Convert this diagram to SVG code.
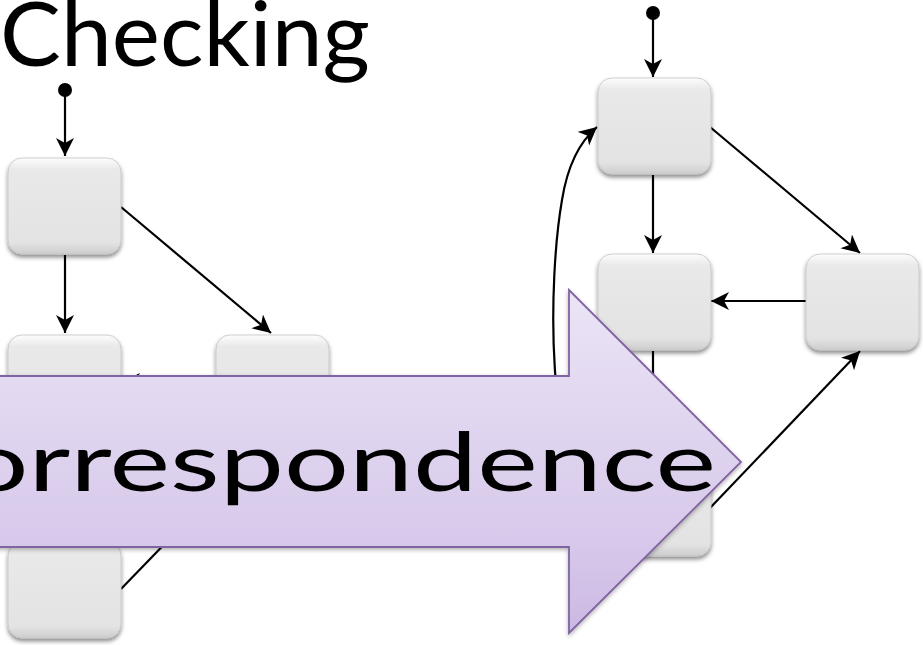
<svg xmlns="http://www.w3.org/2000/svg" width="923" height="645" viewBox="0 0 923 645">
  <defs>
    <style>
      .node { fill: url(#nodeFill); stroke: #c4c4c4; stroke-width: 0.8; filter: url(#nodeShadow); }
      .edge { fill: none; stroke: #000; stroke-width: 2.2; marker-end: url(#stealth); }
      .start { fill: #000; }
      .title { font-family: Lato, "Open Sans", sans-serif; fill: #000; }
    </style>
    <linearGradient id="nodeFill" x1="0" y1="0" x2="0" y2="1">
      <stop offset="0" stop-color="#fdfdfd"/>
      <stop offset="0.12" stop-color="#e9e9e9"/>
      <stop offset="0.88" stop-color="#e3e3e3"/>
      <stop offset="1" stop-color="#cdcdcd"/>
    </linearGradient>
    <linearGradient id="arrowFill" gradientUnits="userSpaceOnUse" x1="0" y1="290" x2="0" y2="633">
      <stop offset="0" stop-color="#ebe5f6"/>
      <stop offset="0.25" stop-color="#e4dbf2"/>
      <stop offset="0.75" stop-color="#d6c8ea"/>
      <stop offset="1" stop-color="#cbb8e3"/>
    </linearGradient>
    <filter id="nodeShadow" x="-20%" y="-20%" width="140%" height="150%">
      <feDropShadow dx="0" dy="3" stdDeviation="2.2" flood-color="#000" flood-opacity="0.45"/>
    </filter>
    <filter id="arrowShadow" x="-10%" y="-10%" width="120%" height="130%">
      <feDropShadow dx="0" dy="2" stdDeviation="2" flood-color="#000" flood-opacity="0.3"/>
    </filter>
    <!-- swept-back arrowhead, sized in user units -->
    <marker id="stealth" markerUnits="userSpaceOnUse" markerWidth="22" markerHeight="20"
            refX="18" refY="9" orient="auto">
      <path d="M0,0 L18,9 L0,18 L5,9 Z" fill="#000"/>
    </marker>
  </defs>

  <text class="title" x="0" y="66" font-size="90" textLength="370" lengthAdjust="spacingAndGlyphs">Checking</text>

  <!-- connectors -->
  <g id="connectors">
    <!-- left machine -->
    <circle class="start" cx="65" cy="90" r="7"/>
    <line class="edge" x1="65" y1="95" x2="65" y2="156"/>
    <line class="edge" x1="65" y1="255" x2="65" y2="333"/>
    <line class="edge" x1="121" y1="207" x2="271" y2="333"/>
    <line class="edge" x1="216" y1="382" x2="122" y2="382"/>
    <line class="edge" x1="121" y1="589" x2="272" y2="433"/>
    <!-- right machine -->
    <circle class="start" cx="653" cy="13" r="7"/>
    <line class="edge" x1="653" y1="18" x2="653" y2="77"/>
    <line class="edge" x1="653" y1="175" x2="653" y2="253"/>
    <line class="edge" x1="710" y1="127" x2="860" y2="253"/>
    <line class="edge" x1="806" y1="301" x2="711" y2="301"/>
    <line class="edge" x1="653" y1="351" x2="653" y2="458"/>
    <line class="edge" x1="710" y1="508" x2="860" y2="351"/>
    <path class="edge" d="M598,505 C545,470 548,280 562,200 Q570,150 597,127"/>
  </g>

  <!-- left machine states -->
  <g id="left-a"><rect class="node" x="8" y="158" width="113" height="96" rx="14"/></g>
  <g id="left-b"><rect class="node" x="8" y="335" width="113" height="96" rx="14"/></g>
  <g id="left-d"><rect class="node" x="216" y="335" width="113" height="96" rx="14"/></g>
  <g id="left-c"><rect class="node" x="8" y="542" width="113" height="96" rx="14"/></g>

  <!-- right machine states -->
  <g id="right-e"><rect class="node" x="598" y="78" width="113" height="96" rx="14"/></g>
  <g id="right-f"><rect class="node" x="598" y="254" width="113" height="96" rx="14"/></g>
  <g id="right-g"><rect class="node" x="806" y="254" width="113" height="96" rx="14"/></g>
  <g id="right-h"><rect class="node" x="598" y="460" width="113" height="96" rx="14"/></g>

  <!-- block arrow with its label -->
  <g id="correspondence">
    <path d="M-20,376 L569,376 L569,290 L741,462 L569,633 L569,547 L-20,547 Z"
          fill="url(#arrowFill)" stroke="#8064a2" stroke-width="1.8" stroke-linejoin="miter" filter="url(#arrowShadow)"/>
    <text class="title" x="-112" y="491" font-size="82" textLength="828" lengthAdjust="spacingAndGlyphs">Correspondence</text>
  </g>
</svg>
